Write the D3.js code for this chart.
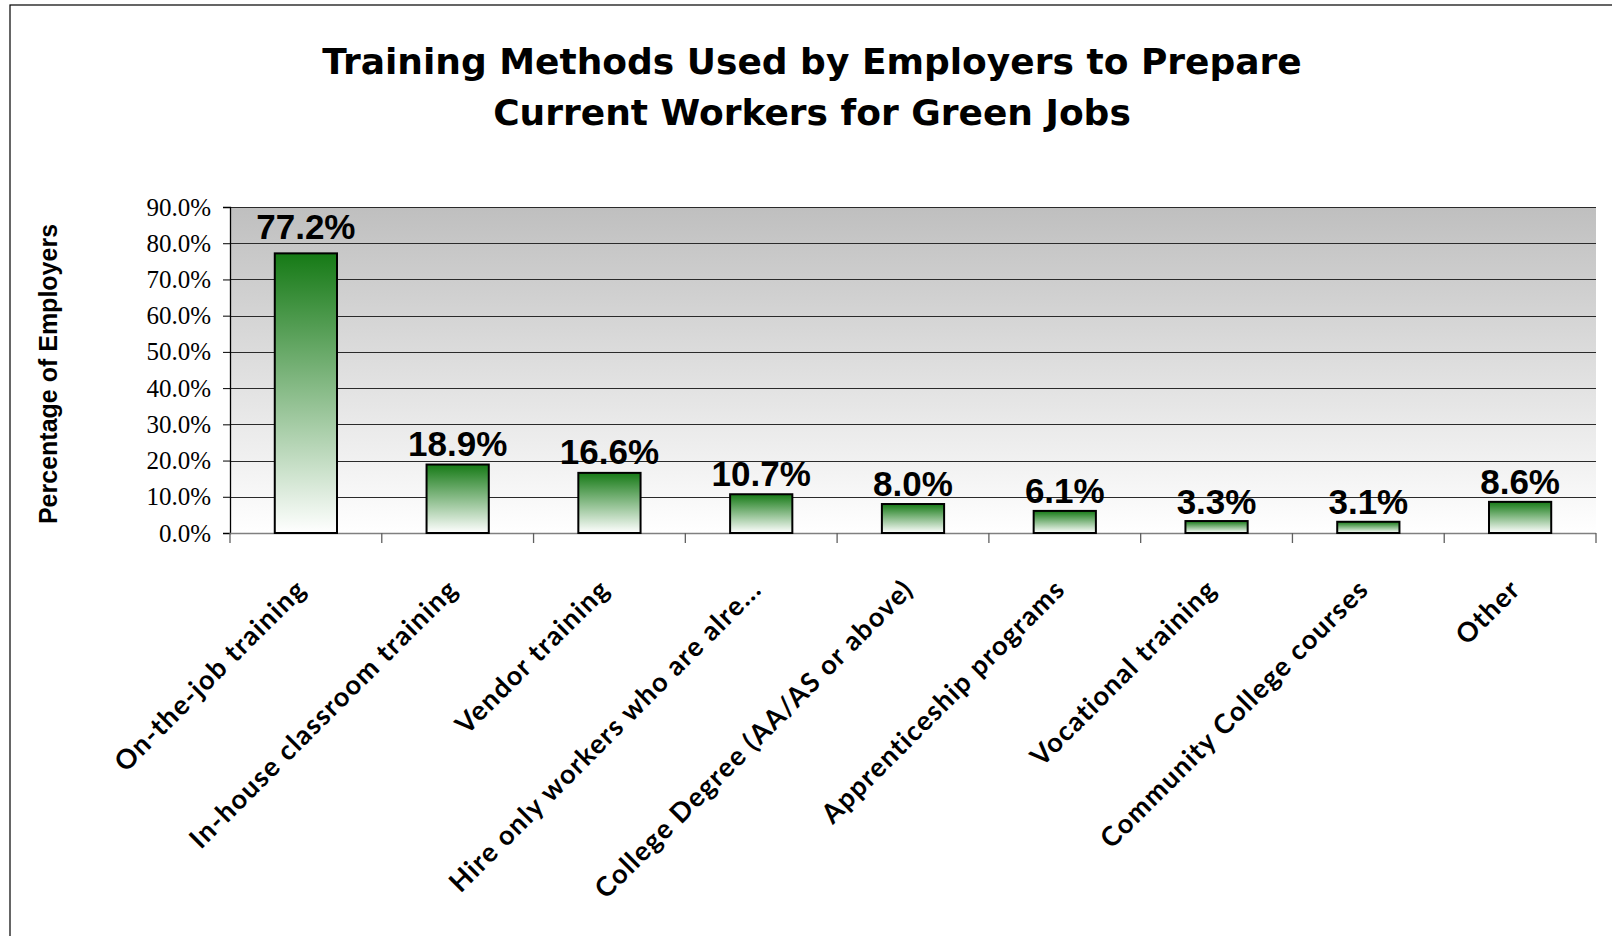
<!DOCTYPE html>
<html><head><meta charset="utf-8">
<script src="https://cdn.jsdelivr.net/npm/d3@7"></script>
<style>body{margin:0;background:#fff;} svg{display:block;}</style>
</head><body>
<script>
const categories = ["On-the-job training","In-house classroom training","Vendor training","Hire only workers who are alre...","College Degree (AA/AS or above)","Apprenticeship programs","Vocational training","Community College courses","Other"];
const values = [77.2,18.9,16.6,10.7,8.0,6.1,3.3,3.1,8.6];
const yTicks = [0,10,20,30,40,50,60,70,80,90];
const titleLines = ["Training Methods Used by Employers to Prepare","Current Workers for Green Jobs"];
const yTitle = "Percentage of Employers";

const W=1612,H=936;
const m={left:230,right:1596,top:207,bottom:533};
const svg=d3.select("body").append("svg").attr("width",W).attr("height",H);
const defs=svg.append("defs");
const bg=defs.append("linearGradient").attr("id","bg").attr("x1",0).attr("y1",0).attr("x2",0).attr("y2",1);
bg.append("stop").attr("offset","0%").attr("stop-color","#bfbfbf");
bg.append("stop").attr("offset","100%").attr("stop-color","#ffffff");
const bg2=defs.append("linearGradient").attr("id","bar").attr("x1",0).attr("y1",0).attr("x2",0).attr("y2",1);
bg2.append("stop").attr("offset","0%").attr("stop-color","#167a16");
bg2.append("stop").attr("offset","100%").attr("stop-color","#ffffff");

svg.append("rect").attr("x",10).attr("y",5).attr("width",1700).attr("height",1000).attr("fill","none").attr("stroke","#000").attr("stroke-width",1.2);

const x=d3.scaleBand().domain(categories).range([m.left,m.right]).paddingInner(0.59).paddingOuter(0.295);
const xb=d3.scaleBand().domain(categories).range([m.left,m.right]);
const y=d3.scaleLinear().domain([0,90]).range([m.bottom,m.top]);

svg.append("rect").attr("x",m.left).attr("y",m.top).attr("width",m.right-m.left).attr("height",m.bottom-m.top).attr("fill","url(#bg)");

// gridlines
svg.append("g").selectAll("line").data(yTicks.filter(d=>d>0)).join("line")
  .attr("x1",m.left).attr("x2",m.right).attr("y1",d=>Math.round(y(d))+0.5).attr("y2",d=>Math.round(y(d))+0.5)
  .attr("stroke","#2a2a2a").attr("stroke-width",1);

// y axis
const ya=svg.append("g").attr("transform",`translate(${m.left},0)`)
  .call(d3.axisLeft(y).tickValues(yTicks).tickSize(7).tickPadding(12).tickFormat(d=>d.toFixed(1)+"%"));
ya.select(".domain").attr("stroke","#000").attr("stroke-width",1.3);
ya.selectAll(".tick line").attr("stroke","#000");
ya.selectAll(".tick text").attr("font-family","'Liberation Serif','Times New Roman',serif").attr("font-size",25).attr("fill","#000");

// x axis
const xa=svg.append("g").attr("transform",`translate(0,${m.bottom})`);
xa.append("line").attr("x1",m.left).attr("x2",m.right).attr("y1",0.5).attr("y2",0.5).attr("stroke","#808080").attr("stroke-width",1.5);
const bounds=categories.map(c=>xb(c)).concat([m.right]);
xa.selectAll("line.t").data(bounds).join("line").attr("class","t")
  .attr("x1",d=>d).attr("x2",d=>d).attr("y1",0).attr("y2",10).attr("stroke","#606060").attr("stroke-width",1.3);

// bars
svg.append("g").selectAll("rect").data(values).join("rect")
  .attr("x",(d,i)=>x(categories[i])).attr("width",x.bandwidth())
  .attr("y",d=>y(d)).attr("height",d=>y(0)-y(d))
  .attr("fill","url(#bar)").attr("stroke","#000").attr("stroke-width",2);

// value labels
svg.append("g").selectAll("text").data(values).join("text")
  .attr("x",(d,i)=>xb(categories[i])+xb.bandwidth()/2).attr("y",d=>y(d)-7-d*0.1)
  .attr("text-anchor","middle").attr("font-family","'Liberation Sans',Arial,sans-serif")
  .attr("font-weight","bold").attr("font-size",35).attr("fill","#000")
  .text(d=>d.toFixed(1)+"%");

// category labels
svg.append("g").selectAll("text").data(categories).join("text")
  .attr("transform",d=>`translate(${xb(d)+xb.bandwidth()/2+2},${m.bottom+58}) rotate(-45)`)
  .attr("text-anchor","end").attr("font-family","Lato,'Noto Sans',sans-serif")
  .attr("font-weight","bold").attr("font-size",27).attr("letter-spacing",1.3).attr("fill","#000")
  .text(d=>d);

// title
svg.append("g").selectAll("text").data(titleLines).join("text")
  .attr("x",812).attr("y",(d,i)=>74+i*51).attr("text-anchor","middle")
  .attr("font-family","'DejaVu Sans',Verdana,sans-serif").attr("font-weight","bold").attr("font-size",36).attr("fill","#000")
  .text(d=>d);

// y title
svg.append("text").attr("transform","translate(57,374) rotate(-90)").attr("text-anchor","middle")
  .attr("font-family","'Liberation Sans',Arial,sans-serif").attr("font-weight","bold").attr("font-size",25).attr("fill","#000")
  .text(yTitle);
</script>
</body></html>
